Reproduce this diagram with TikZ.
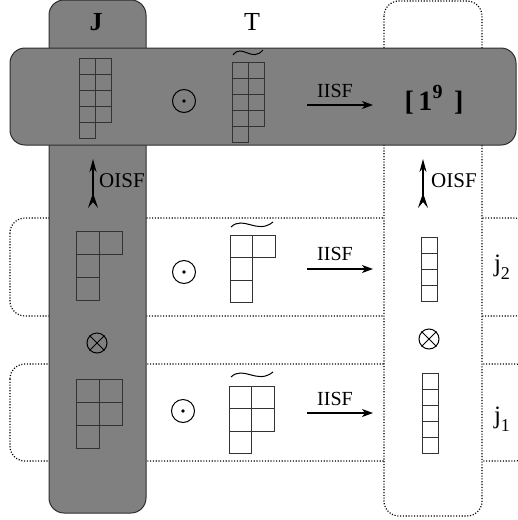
\documentclass[tikz,border=0pt]{standalone}
\usepackage{fontspec}
\setmainfont{Liberation Serif}
\usetikzlibrary{arrows.meta}
\definecolor{bandgray}{HTML}{808080}
\definecolor{edgec}{HTML}{2E2E2E}
\tikzset{
 grayband/.style={fill=bandgray, draw=edgec, line width=1pt, rounded corners=15pt},
 dotbox/.style={fill=white, draw=black, line width=1.2pt, dash pattern=on 1.1pt off 1.7pt, rounded corners=15pt},
 cell/.style={draw=black!80, line width=0.9pt},
 odotc/.style={circle, draw=black, line width=1pt, minimum size=23pt, inner sep=0pt},
 otimesc/.style={circle, draw=black, line width=1pt, minimum size=20pt, inner sep=0pt},
 iisf/.style={-{Stealth[length=11pt,width=8pt,inset=3pt]}, line width=1.1pt},
 oisf/.style={{Stealth[reversed,length=15pt,width=10pt,inset=6pt]}-{Stealth[length=13pt,width=7pt,inset=4pt]}, line width=1.1pt},
 lbl/.style={font=\fontsize{20}{22}\selectfont, inner sep=0pt},
 tild/.style={line width=1pt},
}
\newcommand{\tabl}[4]{%
  \foreach \r [count=\i from 0] in {#4}{%
    \foreach \c in {1,...,\r}{%
      \draw[cell] ({#1+(\c-1)*#3},{#2+\i*#3}) rectangle ++(#3,#3);
    }}}
\newcommand{\wtil}[3]{%
  \draw[tild] ({#1},{#3+2}) .. controls ({#1+0.3*(#2-#1)},{#3-10}) and ({#1+0.62*(#2-#1)},{#3+10}) .. ({#2},{#3-3});}
\begin{document}
\begin{tikzpicture}[x=1pt,y=-1pt]
\useasboundingbox (0,0) rectangle (518,520);
% dotted row boxes
\draw[dotbox] (10,218) rectangle (530,316);
\draw[dotbox] (10,364) rectangle (530,461);
% right dotted column
\draw[dotbox] (384,1) rectangle (482,516);
% J column and top band
\draw[grayband] (49,0) rectangle (146,513);
\draw[grayband] (10,48) rectangle (516,145);
% headers
\node[font=\fontsize{26}{28}\selectfont\bfseries] (J) at (96,22) {J};
\node[font=\fontsize{26}{28}\selectfont] (T) at (252,22) {T};
% top band content
\tabl{79}{58}{16}{2,2,2,2,1}
\node[odotc] (od0) at (184,101) {};
\fill (od0.center) circle (1.8);
\tabl{232}{62}{16}{2,2,2,2,1}
\wtil{233}{263}{53}
\coordinate (a0s) at (307,105);
\coordinate (a0e) at (373,105);
\draw[iisf] (a0s) -- (a0e);
\node[lbl] (l0) at (335,91) {IISF};
\node[font=\fontsize{28}{30}\selectfont\bfseries] (res) at (434,100) {[\,1\raisebox{0.42em}{\fontsize{20}{20}\selectfont\bfseries 9}\, ]};
% OISF arrows
\coordinate (oLs) at (93,208);
\coordinate (oLe) at (93,159);
\draw[oisf] (oLs) -- (oLe);
\node[lbl, font=\fontsize{21}{22}\selectfont, anchor=west] (oL) at (99,181) {OISF};
\coordinate (oRs) at (423,208);
\coordinate (oRe) at (423,159);
\draw[oisf] (oRs) -- (oRe);
\node[lbl, font=\fontsize{21}{22}\selectfont, anchor=west] (oR) at (431,181) {OISF};
% row 2
\tabl{76}{231}{23}{2,1,1}
\node[odotc] (od2) at (184,272) {};
\fill (od2.center) circle (1.8);
\tabl{230}{235}{22.5}{2,1,1}
\wtil{231}{273}{225}
\coordinate (a2s) at (307,269);
\coordinate (a2e) at (373,269);
\draw[iisf] (a2s) -- (a2e);
\node[lbl] (l2) at (335,254) {IISF};
\tabl{421}{237}{16}{1,1,1,1}
\node[font=\fontsize{25}{27}\selectfont] (j2) at (502,267) {j\raisebox{-0.3em}{\fontsize{18}{18}\selectfont 2}};
% tensor signs
\node[otimesc] (ot1) at (97,343) {};
\draw[line width=1pt] (ot1.north east) -- (ot1.south west) (ot1.north west) -- (ot1.south east);
\node[otimesc] (ot2) at (429,339) {};
\draw[line width=1pt] (ot2.north east) -- (ot2.south west) (ot2.north west) -- (ot2.south east);
% row 1
\tabl{76}{379}{23}{2,2,1}
\node[odotc] (od1) at (183,411) {};
\fill (od1.center) circle (1.8);
\tabl{229}{386}{22.5}{2,2,1}
\wtil{231}{273}{375}
\coordinate (a1s) at (307,413);
\coordinate (a1e) at (373,413);
\draw[iisf] (a1s) -- (a1e);
\node[lbl] (l1) at (335,399) {IISF};
\tabl{422}{373}{16}{1,1,1,1,1}
\node[font=\fontsize{25}{27}\selectfont] (j1) at (502,419) {j\raisebox{-0.3em}{\fontsize{18}{18}\selectfont 1}};
\end{tikzpicture}
\end{document}
